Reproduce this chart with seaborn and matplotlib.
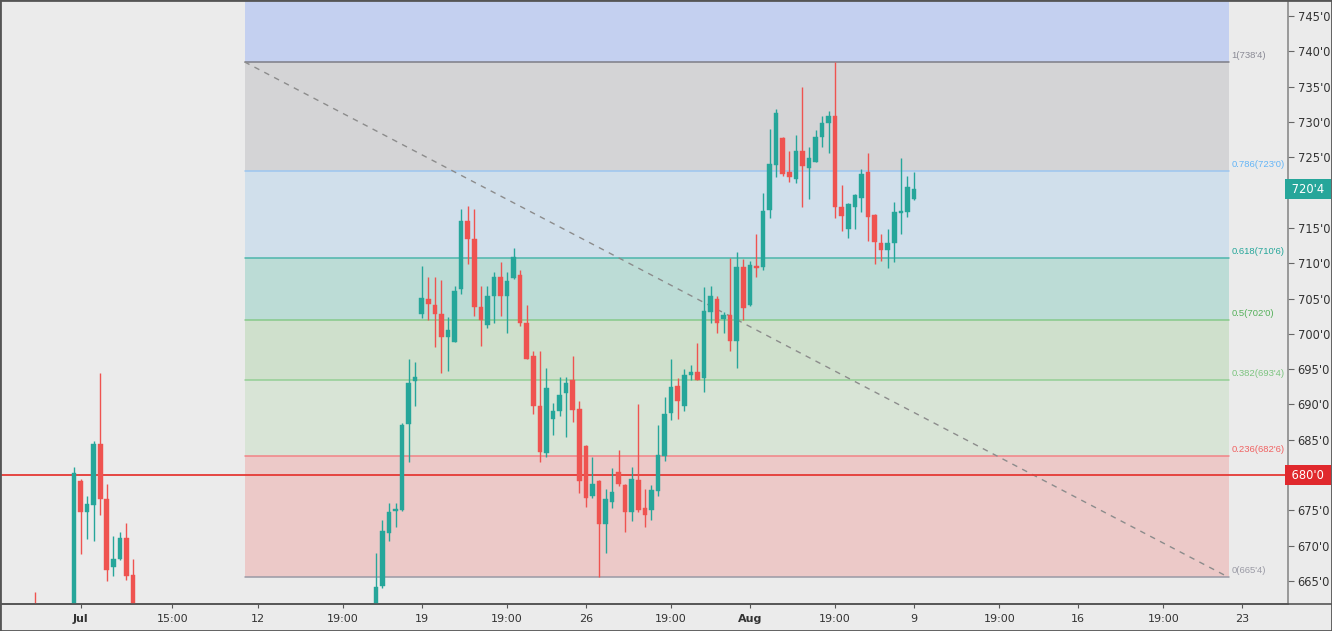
import matplotlib
matplotlib.use("Agg")
import matplotlib.pyplot as plt
import matplotlib.transforms as mtransforms
from matplotlib.patches import Rectangle
from matplotlib.lines import Line2D
import seaborn as sns
import numpy as np
import pandas as pd

# ---------------- data ----------------
bar_idx = [0, 6, 7, 8, 9, 10, 11, 12, 13, 14, 15,
           52, 53, 54, 55, 56, 57, 58, 59, 60, 61, 62, 63, 64, 65, 66, 67, 68, 69,
           70, 71, 72, 73, 74, 75, 76, 77, 78, 79, 80, 81, 82, 83, 84, 85, 86, 87,
           88, 89, 90, 91, 92, 93, 94, 95, 96, 97, 98, 99, 100, 101, 102, 103, 104,
           105, 106, 107, 108, 109, 110, 111, 112, 113, 114, 115, 116, 117, 118,
           119, 120, 121, 122, 123, 124, 125, 126, 127, 128, 129, 130, 131, 132,
           133, 134]
opens = [660.5, 658.0, 679.2, 674.8, 675.8, 684.4, 676.6, 667.0, 668.1, 671.1, 665.9,
         656.0, 664.3, 671.8, 674.9, 675.0, 687.2, 693.3, 702.8, 704.9, 704.1, 702.8,
         699.5, 698.9, 706.3, 716.0, 713.4, 703.8, 701.2, 705.4, 708.1, 705.4, 707.9,
         708.3, 701.6, 696.9, 689.8, 683.1, 688.0, 689.1, 691.6, 693.4, 689.3, 684.1,
         677.0, 679.2, 673.0, 676.2, 680.4, 678.6, 674.8, 679.3, 675.4, 675.0, 677.8,
         682.7, 688.8, 692.6, 689.8, 694.1, 694.6, 693.8, 703.05, 705.0, 702.05, 702.6,
         699.0, 709.5, 704.1, 709.6, 709.4, 717.5, 723.9, 727.7, 722.9, 721.9, 725.9,
         723.5, 724.4, 727.8, 729.9, 730.8, 717.9, 714.8, 718.0, 719.3, 722.9, 716.8,
         712.9, 711.8, 712.8, 717.1, 717.3, 719.1]
highs = [663.5, 681.1, 679.5, 677.0, 684.8, 694.4, 678.8, 671.4, 671.9, 673.2, 668.1,
         669.0, 673.6, 676.1, 676.1, 687.4, 696.4, 696.0, 709.6, 708.0, 708.1, 707.6,
         702.4, 706.7, 717.7, 718.1, 717.7, 706.8, 706.8, 708.8, 710.1, 708.8, 712.2,
         709.1, 704.1, 697.6, 697.6, 695.1, 690.2, 693.9, 693.9, 696.8, 690.5, 684.2,
         682.6, 679.3, 678.0, 681.0, 683.6, 678.7, 681.1, 690.1, 678.0, 678.6, 687.1,
         691.1, 696.4, 693.8, 695.0, 695.6, 698.7, 706.6, 706.8, 705.3, 703.1, 710.7,
         711.6, 710.6, 710.3, 714.1, 719.9, 729.0, 731.9, 727.9, 725.9, 728.2, 734.9,
         726.4, 728.9, 730.8, 731.6, 738.5, 721.1, 718.5, 719.8, 723.4, 725.6, 716.9,
         714.1, 714.8, 718.6, 724.9, 722.4, 722.9]
lows = [655.0, 655.0, 668.8, 671.0, 670.6, 674.4, 665.0, 665.75, 668.0, 665.1, 655.0,
        652.0, 664.0, 670.7, 672.7, 674.9, 681.8, 689.8, 702.3, 702.0, 698.1, 694.4,
        694.8, 698.8, 705.6, 709.9, 702.5, 698.3, 700.8, 701.5, 702.5, 700.1, 707.8,
        701.1, 696.4, 688.6, 681.8, 682.6, 685.7, 688.3, 685.4, 687.5, 677.5, 675.5,
        676.7, 665.5, 669.0, 675.4, 678.5, 671.9, 673.5, 674.8, 672.7, 673.6, 677.0,
        682.0, 687.8, 688.0, 689.1, 693.4, 693.4, 691.7, 701.5, 700.1, 700.1, 697.6,
        695.1, 702.0, 704.0, 708.0, 709.0, 716.4, 722.2, 722.3, 721.5, 721.3, 717.9,
        719.1, 724.3, 726.5, 725.6, 716.4, 714.6, 713.6, 714.8, 717.3, 713.2, 709.9,
        710.35, 709.3, 710.1, 714.2, 716.6, 719.0]
closes = [657.0, 680.3, 674.8, 675.9, 684.4, 676.6, 666.5, 668.1, 671.1, 665.75, 658.0,
          664.1, 672.1, 674.8, 675.1, 687.1, 693.1, 693.9, 705.1, 704.2, 702.8, 699.5,
          700.6, 706.1, 716.0, 713.4, 703.8, 701.9, 705.4, 708.1, 705.4, 707.5, 710.9,
          701.5, 696.5, 689.8, 683.3, 692.3, 689.1, 691.3, 693.1, 689.2, 679.1, 676.8,
          678.8, 673.0, 676.6, 677.6, 678.7, 674.8, 679.5, 675.05, 674.3, 677.9, 682.8,
          688.6, 692.4, 690.5, 694.1, 694.6, 693.5, 703.3, 705.4, 701.5, 702.6, 699.0,
          709.5, 703.6, 709.8, 709.3, 717.4, 724.1, 731.2, 722.6, 722.2, 725.9, 723.8,
          724.9, 727.8, 729.9, 730.8, 717.9, 716.7, 718.4, 719.6, 722.6, 716.6, 713.05,
          711.8, 712.9, 717.3, 717.4, 720.8, 720.5]

fib_levels = [0, 0.236, 0.382, 0.5, 0.618, 0.786, 1]
fib_prices = [665.5, 682.75, 693.5, 702.0, 710.75, 723.0, 738.5]
fib_labels = ["0(665'4)", "0.236(682'6)", "0.382(693'4)", "0.5(702'0)",
              "0.618(710'6)", "0.786(723'0)", "1(738'4)"]
fib_x = [32, 182]              # start / end bar of the fib drawing
fib_top_zone = 760.0

tick_pos = [7, 21, 34, 47, 59, 72, 84, 97, 109, 122, 134, 147, 159, 172, 184]
tick_labels = ["Jul", "15:00", "12", "19:00", "19", "19:00", "26", "19:00",
               "Aug", "19:00", "9", "19:00", "16", "19:00", "23"]
bold_ticks = ["Jul", "Aug"]

y_ticks = [665, 670, 675, 680, 685, 690, 695, 700, 705, 710, 715, 720, 725,
           730, 735, 740, 745]
alert_price = 680.0
last_price = 720.5

# ---------------- style ----------------
BG = "#ebebeb"
UP = "#26a69a"
DN = "#ef5350"
zone_colors = ["#ecc9c8", "#d8e4d6", "#cfe0cc", "#bcdcd6", "#d0dfeb", "#d4d4d6", "#c4d0f0"]
line_colors = ["#9a9aa5", "#f28386", "#93cf95", "#86c98a", "#4db6ac", "#9cc6f0", "#7d7d87"]
label_colors = ["#9a9aa5", "#f06262", "#7cc47f", "#55b05a", "#26a69a", "#64b5f6", "#8a8a95"]

sns.set_theme(style="white", rc={"axes.facecolor": BG, "figure.facecolor": BG})
plt.rcParams["font.family"] = ["DejaVu Sans"]

fig = plt.figure(figsize=(13.32, 6.31), dpi=100)
ax = fig.add_axes([0, 1 - 604 / 631, 1288 / 1332, 604 / 631])
ax.set_facecolor(BG)

# fib zones
zone_bounds = fib_prices + [fib_top_zone]
for k in range(len(zone_bounds) - 1):
    ax.fill_between(fib_x, zone_bounds[k], zone_bounds[k + 1],
                    color=zone_colors[k], lw=0, zorder=0.5)
for k, p in enumerate(fib_prices):
    ax.plot(fib_x, [p, p], color=line_colors[k], lw=1.1, zorder=1)
    ax.annotate(fib_labels[k], xy=(fib_x[1], p), xytext=(2.0, 1.5),
                textcoords="offset points", ha="left", va="bottom",
                fontsize=6.8, color=label_colors[k], family="Liberation Sans")

# dashed trend line
trend = pd.DataFrame({"x": fib_x, "y": [fib_prices[-1], fib_prices[0]]})
sns.lineplot(data=trend, x="x", y="y", ax=ax, color="#8c8c8c", lw=1,
             linestyle=(0, (4, 4)), zorder=1.5)

# alert line
ax.axhline(alert_price, color="#e53935", lw=1.3, zorder=2)

# candles
df = pd.DataFrame({"i": bar_idx, "o": opens, "h": highs, "l": lows, "c": closes})
df["col"] = np.where(df["c"] >= df["o"], UP, DN)
ax.vlines(df["i"], df["l"], df["h"], colors=df["col"], lw=1.0, zorder=3)
body_lo = np.minimum(df["o"], df["c"])
body_h = np.maximum(np.abs(df["c"] - df["o"]), 0.35)
ax.bar(df["i"], body_h, bottom=body_lo, width=0.7, color=df["col"],
       edgecolor=df["col"], lw=0.3, zorder=4)

# axes
ax.set_xlim(-5.27, 191.0)
ax.set_ylim(661.74, 747.27)
ax.set_xlabel("")
ax.set_ylabel("")

def fmt_price(p):
    whole = int(np.floor(p))
    eighths = int(round((p - whole) * 8))
    return f"{whole}'{eighths}"

# tick labels hidden behind the price tags are left blank
tagged = [round(last_price), round(alert_price)]
ax.yaxis.tick_right()
ax.set_yticks(y_ticks)
ax.set_yticklabels(["" if v in tagged else fmt_price(v) for v in y_ticks])
ax.tick_params(axis="y", which="both", right=True, left=False, length=4,
               width=0.8, color="#666666", pad=3, labelsize=8.3, labelcolor="#333333",
               direction="out")
ax.set_xticks(tick_pos)
ax.set_xticklabels(tick_labels)
ax.tick_params(axis="x", bottom=True, length=3, width=0.8, color="#555555",
               pad=4, labelsize=8, labelcolor="#333333", direction="out")
for t in ax.get_xticklabels():
    if t.get_text() in bold_ticks:
        t.set_fontweight("bold")

for s in ["top", "left"]:
    ax.spines[s].set_visible(False)
ax.spines["right"].set_color("#8a8a8a")
ax.spines["right"].set_linewidth(1.2)
ax.spines["bottom"].set_color("#555555")
ax.spines["bottom"].set_linewidth(1.2)
ax.grid(False)

# price tags on the right axis
trans = mtransforms.blended_transform_factory(ax.transAxes, ax.transData)
for price, col in [(last_price, UP), (alert_price, "#e0282d")]:
    ax.text(1.0, price, " " + fmt_price(price) + " ", transform=trans,
            ha="left", va="center", fontsize=8.3, color="white", zorder=10,
            bbox=dict(boxstyle="square,pad=0.3", fc=col, ec="none"), clip_on=False)

# bottom axis line across the price scale and figure frame
y_axis_line = 1 - 604 / 631
fig.add_artist(Line2D([0, 1], [y_axis_line, y_axis_line], transform=fig.transFigure,
                      color="#555555", lw=1.2))
fig.add_artist(Rectangle((0, 0), 1, 1, transform=fig.transFigure, fill=False,
                         ec="#555555", lw=2.0))

fig.savefig("out.png", dpi=100, facecolor=BG)
